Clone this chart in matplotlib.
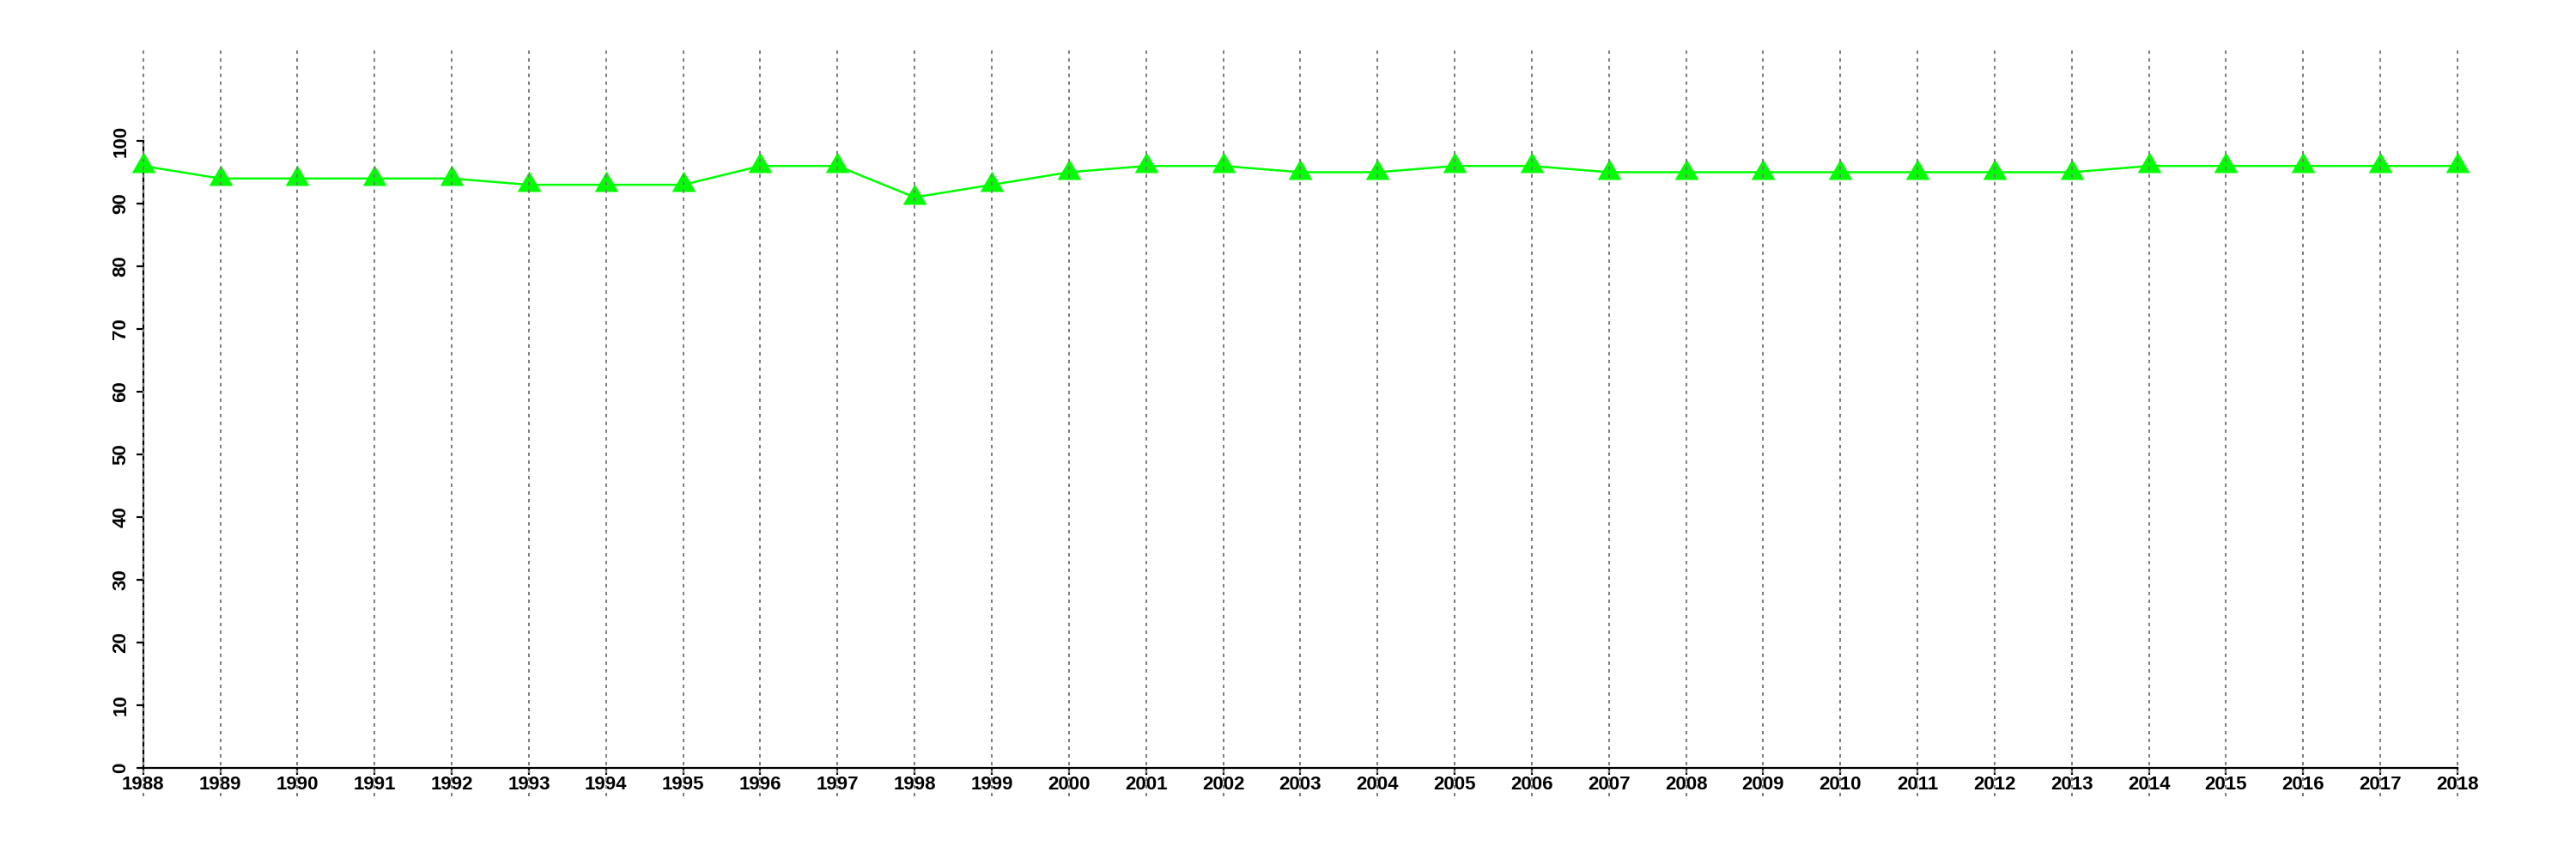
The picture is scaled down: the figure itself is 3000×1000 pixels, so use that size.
import matplotlib
matplotlib.use("Agg")
import matplotlib.pyplot as plt

years = list(range(1988, 2019))
values = [96, 94, 94, 94, 94, 93, 93, 93, 96, 96, 91, 93, 95, 96, 96, 95, 95,
          96, 96, 95, 95, 95, 95, 95, 95, 95, 96, 96, 96, 96, 96]
y_ticks = [0, 10, 20, 30, 40, 50, 60, 70, 80, 90, 100]

plt.rcParams['font.family'] = ['Liberation Sans', 'DejaVu Sans']

fig = plt.figure(figsize=(30, 10), dpi=100)
ax = fig.add_axes([166.7 / 3000, 1 - 894 / 1000, (2862 - 166.7) / 3000, (894 - 164) / 1000])
ax.set_xlim(years[0], years[-1])
ax.set_ylim(0, 100)

tri = [(0, 1), (-0.866, -0.5), (0.866, -0.5)]
ax.plot(years, values, color='#00ff00', lw=1.8, marker=tri, markersize=23,
        markeredgewidth=0, clip_on=False, zorder=3)

# vertical dotted grid lines extending beyond plot region
for yr in years:
    ax.plot([yr, yr], [-4.5, 114.5], color='#7a7a7a', lw=1.4,
            linestyle=(0, (2.06, 2.57)), clip_on=False, zorder=4)

for s in ['top', 'right']:
    ax.spines[s].set_visible(False)
for s in ['left', 'bottom']:
    ax.spines[s].set_linewidth(1.6)
    ax.spines[s].set_color('black')

ax.set_xticks(years)
ax.set_xticklabels([str(y) for y in years], fontsize=16, fontweight='bold')
ax.set_yticks(y_ticks)
ax.set_yticklabels([str(v) for v in y_ticks], fontsize=16, fontweight='bold',
                   rotation=90, va='center')
ax.tick_params(axis='x', length=6, width=1.6, pad=0.5)
ax.tick_params(axis='y', length=6, width=1.6, pad=5)

fig.savefig('out.png', dpi=100)
